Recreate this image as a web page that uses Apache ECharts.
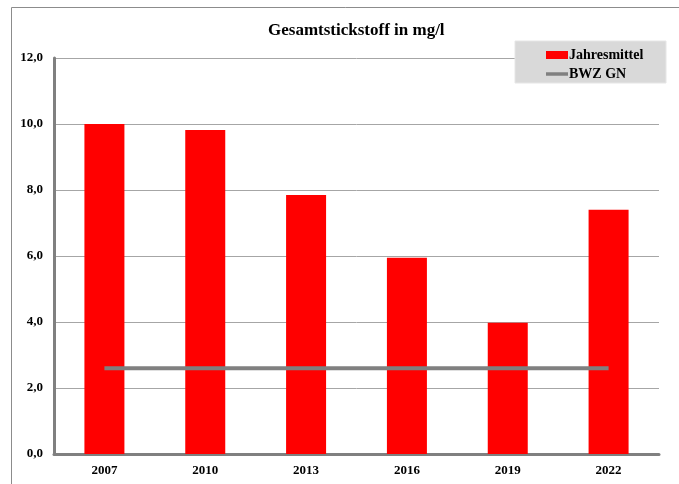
<!DOCTYPE html>
<html><head><meta charset="utf-8">
<script src="https://cdn.jsdelivr.net/npm/echarts@6/dist/echarts.min.js"></script>
<style>html,body{margin:0;padding:0;background:#fff}#c{width:679px;height:484px}</style>
</head><body><div id="c"></div>
<script>
const titleText = 'Gesamtstickstoff in mg/l';
const years = ['2007','2010','2013','2016','2019','2022'];
const jahresmittel = [10.0, 9.82, 7.85, 5.95, 3.98, 7.4];
const bwzGN = [2.6, 2.6, 2.6, 2.6, 2.6, 2.6];
const seriesNames = ['Jahresmittel', 'BWZ GN'];

const font = 'Liberation Serif';
const chart = echarts.init(document.getElementById('c'), null, {renderer:'canvas'});
chart.setOption({
  animation: false,
  backgroundColor: '#fff',
  graphic: [
    {type:'rect', shape:{x:11.5, y:7.5, width:700, height:500}, style:{fill:null, stroke:'#8c8c8c', lineWidth:1}, z:-10},
    {type:'rect', shape:{x:515, y:41, width:151, height:42}, style:{fill:'#d9d9d9', stroke:'#e6e6e6', lineWidth:1}, z:3}
  ],
  title: {
    text: titleText, left: 263, top: 17,
    textStyle: {fontFamily: font, fontSize: 17, fontWeight: 'bold', color: '#000'}
  },
  legend: {
    orient: 'vertical', left: 541, top: 43, itemGap: 5, z: 5,
    itemWidth: 22, itemHeight: 8,
    textStyle: {fontFamily: font, fontSize: 14, fontWeight: 'bold', color: '#000', padding:[0,0,0,-4]},
    data: [
      {name: seriesNames[0], icon: 'rect'},
      {name: seriesNames[1], icon: 'path://M0,0 L22,0 L22,3.5 L0,3.5 Z', itemStyle: {color: '#808080', borderWidth: 0}}
    ]
  },
  grid: {left: 54, right: 20, top: 58, bottom: 30},
  xAxis: {
    type: 'category', data: years,
    axisLine: {lineStyle: {color: '#808080', width: 3}},
    axisTick: {show: false},
    axisLabel: {fontFamily: font, fontSize: 13, fontWeight: 'bold', color: '#000', margin: 10}
  },
  yAxis: {
    type: 'value', min: 0, max: 12, interval: 2,
    axisLine: {show: true, lineStyle: {color: '#808080', width: 3}},
    axisTick: {show: false},
    splitLine: {lineStyle: {color: '#a6a6a6', width: 1}},
    axisLabel: {fontFamily: font, fontSize: 13, fontWeight: 'bold', color: '#000', margin: 11,
      formatter: v => v.toFixed(1).replace('.', ',')}
  },
  series: [
    {name: seriesNames[0], type: 'bar', data: jahresmittel, barWidth: 40,
     itemStyle: {color: '#ff0000'}, z: 2},
    {name: seriesNames[1], type: 'line', data: bwzGN, symbol: 'none',
     lineStyle: {color: '#808080', width: 4}, itemStyle: {color: '#808080'}, z: 3}
  ]
});
</script></body></html>
